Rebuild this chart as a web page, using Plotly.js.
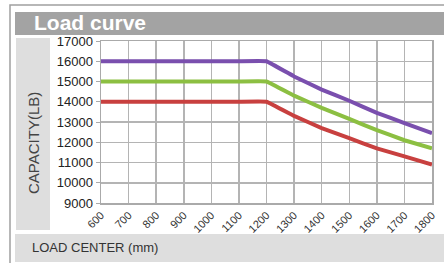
<!DOCTYPE html>
<html>
<head>
<meta charset="utf-8">
<script src="https://cdn.plot.ly/plotly-3.0.1.min.js"></script>
<style>html,body{margin:0;padding:0;background:#fff}#chart{width:444px;height:263px}</style>
</head>
<body>
<div id="chart"></div>
<script>
const loadCenter = [600,700,800,900,1000,1100,1200,1300,1400,1500,1600,1700,1800];
const capPurple = [16000,16000,16000,16000,16000,16000,16000,15250,14600,14050,13450,12950,12450];
const capGreen  = [15000,15000,15000,15000,15000,15000,15000,14300,13700,13150,12600,12100,11700];
const capRed    = [14000,14000,14000,14000,14000,14000,14000,13300,12700,12200,11700,11300,10900];
const xTicks = [600,700,800,900,1000,1100,1200,1300,1400,1500,1600,1700,1800];
const yTicks = [9000,10000,11000,12000,13000,14000,15000,16000,17000];

const W=444,H=263,L=101,R=432,T=41,B=203;
const px=x=>(x-L)/(R-L), py=y=>(B-y)/(B-T);
function rect(x0,y0,x1,y1,fill,line){return {type:'rect',xref:'paper',yref:'paper',x0:px(x0),x1:px(x1),y0:py(y1),y1:py(y0),fillcolor:fill,line:line||{width:0},layer:'below'};}

const mk=(y,c)=>({x:loadCenter,y:y,type:'scatter',mode:'lines',line:{color:c,width:4,shape:'spline',smoothing:0.15},hoverinfo:'skip',cliponaxis:false});
const data=[mk(capRed,'#c8403f'),mk(capGreen,'#8cbf42'),mk(capPurple,'#7a4fae')];

const layout={
  width:W,height:H,
  margin:{l:L,r:W-R,t:T,b:H-B},
  paper_bgcolor:'#fff',plot_bgcolor:'#fff',
  showlegend:false,
  font:{family:'Liberation Sans, Arial, sans-serif',color:'#333'},
  xaxis:{range:[600,1800],tickvals:xTicks,ticktext:xTicks.map(String),tickangle:-45,
    showgrid:true,gridcolor:'#b4b4b4',gridwidth:1.5,showline:true,linecolor:'#aaa',linewidth:1.5,mirror:true,
    ticks:'',tickfont:{size:11,color:'#333'},zeroline:false,fixedrange:true},
  yaxis:{range:[9000,17000],tickvals:yTicks,ticktext:yTicks.map(String),
    showgrid:true,gridcolor:'#b4b4b4',gridwidth:1.5,showline:true,linecolor:'#aaa',linewidth:1.5,mirror:true,
    ticks:'outside',ticklen:4,tickcolor:'#aaa',tickfont:{size:13,color:'#222'},zeroline:false,fixedrange:true},
  shapes:[
    rect(10,5,452,272,'rgba(0,0,0,0)',{color:'#a0a0a0',width:1.5}),
    rect(15,12,452,35,'#a3a3a3'),
    rect(16,38,50,230,'#dedede'),
    rect(15,234,452,262,'#dedede')
  ],
  annotations:[
    {xref:'paper',yref:'paper',x:px(32),y:py(23),xanchor:'left',yanchor:'middle',text:'<b>Load curve</b>',showarrow:false,font:{size:21,color:'#fff',family:'Liberation Sans, Arial, sans-serif'}},
    {xref:'paper',yref:'paper',x:px(33),y:py(143),xanchor:'center',yanchor:'middle',text:'CAPACITY(LB)',textangle:-90,showarrow:false,font:{size:15,color:'#444'}},
    {xref:'paper',yref:'paper',x:px(30),y:py(248),xanchor:'left',yanchor:'middle',text:'LOAD CENTER (mm)',showarrow:false,font:{size:13,color:'#333'}}
  ]
};
Plotly.newPlot('chart',data,layout,{staticPlot:true,displayModeBar:false});
</script>
</body>
</html>
